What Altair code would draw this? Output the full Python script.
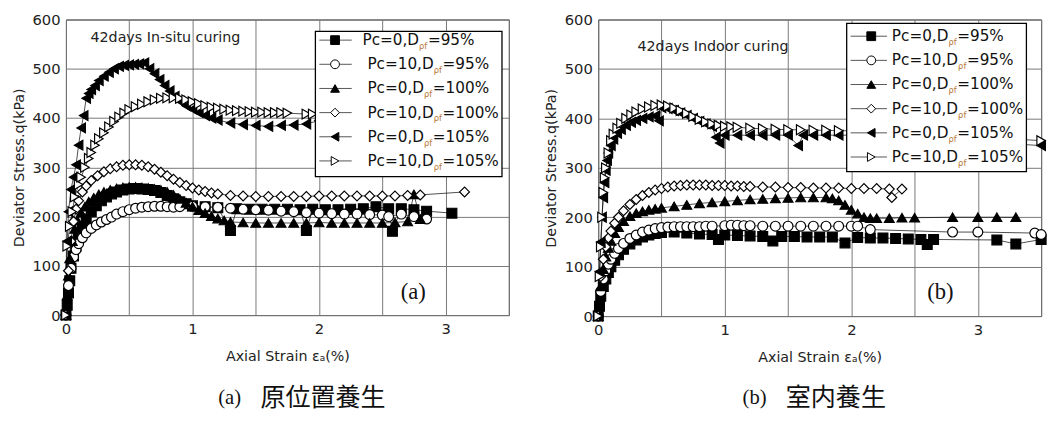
import altair as alt
import pandas as pd

# ---------------- data: panel (a) 42 days in-situ curing ----------------
A1_X = [0.0, 0.01, 0.02, 0.03, 0.04, 0.06, 0.08, 0.1, 0.13, 0.16, 0.2, 0.24, 0.28, 0.32, 0.36, 0.4, 0.45, 0.5, 0.55, 0.6, 0.65, 0.7, 0.75, 0.8, 0.85, 0.9, 0.95, 1.0, 1.1, 1.2, 1.3, 1.35, 1.45, 1.55, 1.65, 1.75, 1.85, 1.9, 1.95, 2.05, 2.15, 2.25, 2.35, 2.45, 2.55, 2.58, 2.65, 2.75, 2.85, 3.05]
A1_Y = [0, 20, 45, 70, 95, 120, 140, 158, 178, 195, 210, 222, 232, 240, 246, 250, 254, 256, 257, 256, 255, 253, 249, 243, 236, 230, 226, 222, 220, 218, 172, 216, 215, 215, 215, 215, 214, 172, 215, 214, 214, 215, 216, 220, 216, 170, 216, 214, 211, 207]

A2_X = [0.0, 0.02, 0.04, 0.06, 0.08, 0.1, 0.13, 0.16, 0.2, 0.24, 0.28, 0.32, 0.36, 0.4, 0.45, 0.5, 0.55, 0.6, 0.65, 0.7, 0.75, 0.8, 0.85, 0.9, 1.0, 1.1, 1.2, 1.3, 1.4, 1.5, 1.6, 1.7, 1.8, 1.9, 2.0, 2.1, 2.2, 2.3, 2.4, 2.5, 2.55, 2.65, 2.75, 2.85]
A2_Y = [0, 60, 95, 118, 133, 145, 157, 167, 176, 183, 189, 194, 199, 205, 210, 214, 217, 219, 220, 221, 221, 220, 219, 220, 221, 220, 219, 217, 215, 214, 213, 211, 210, 208, 207, 206, 205, 205, 204, 203, 200, 205, 200, 195]

A3_X = [0.0, 0.01, 0.02, 0.03, 0.05, 0.07, 0.09, 0.12, 0.15, 0.18, 0.22, 0.26, 0.3, 0.35, 0.4, 0.45, 0.5, 0.55, 0.6, 0.65, 0.7, 0.75, 0.8, 0.85, 0.9, 0.95, 1.0, 1.05, 1.1, 1.15, 1.2, 1.25, 1.3, 1.4, 1.5, 1.6, 1.7, 1.8, 1.9, 2.0, 2.1, 2.2, 2.3, 2.4, 2.5, 2.6, 2.7, 2.75, 2.8]
A3_Y = [0, 40, 80, 115, 150, 175, 192, 208, 220, 230, 238, 245, 250, 254, 257, 259, 260, 260, 259, 258, 256, 254, 250, 244, 236, 228, 220, 213, 207, 201, 196, 192, 189, 188, 187, 187, 187, 187, 187, 188, 187, 187, 187, 187, 187, 188, 190, 245, 195]

A4_X = [0.0, 0.02, 0.04, 0.06, 0.08, 0.1, 0.13, 0.16, 0.2, 0.25, 0.3, 0.35, 0.4, 0.45, 0.5, 0.55, 0.6, 0.65, 0.7, 0.75, 0.8, 0.85, 0.9, 0.95, 1.0, 1.05, 1.1, 1.15, 1.2, 1.3, 1.4, 1.5, 1.6, 1.7, 1.8, 1.9, 2.0, 2.1, 2.2, 2.3, 2.4, 2.5, 2.6, 2.7, 2.8, 3.15]
A4_Y = [0, 90, 150, 190, 215, 232, 250, 262, 273, 283, 291, 297, 301, 304, 305, 305, 304, 301, 296, 290, 283, 276, 269, 263, 258, 254, 251, 248, 246, 243, 242, 241, 241, 241, 241, 241, 242, 242, 242, 242, 242, 242, 242, 243, 244, 250]

A5_X = [0.0, 0.01, 0.02, 0.04, 0.06, 0.08, 0.1, 0.12, 0.14, 0.16, 0.18, 0.2, 0.23, 0.26, 0.3, 0.34, 0.38, 0.42, 0.46, 0.5, 0.54, 0.58, 0.62, 0.66, 0.7, 0.74, 0.78, 0.82, 0.86, 0.9, 0.95, 1.0, 1.05, 1.1, 1.15, 1.2, 1.3, 1.4, 1.5, 1.6, 1.7, 1.8, 1.9, 2.0]
A5_Y = [0, 150, 210, 255, 280, 305, 345, 380, 405, 440, 450, 458, 466, 476, 485, 493, 500, 505, 507, 508, 509, 510, 512, 500, 490, 478, 466, 455, 444, 434, 425, 418, 411, 405, 400, 396, 390, 387, 385, 383, 385, 386, 388, 395]

A6_X = [0.0, 0.01, 0.03, 0.05, 0.07, 0.1, 0.12, 0.15, 0.18, 0.2, 0.23, 0.26, 0.3, 0.34, 0.38, 0.42, 0.46, 0.5, 0.55, 0.6, 0.65, 0.7, 0.75, 0.8, 0.85, 0.9, 0.95, 1.0, 1.05, 1.1, 1.15, 1.2, 1.25, 1.3, 1.35, 1.4, 1.45, 1.5, 1.55, 1.6, 1.65, 1.7, 1.75, 1.9, 1.95]
A6_Y = [0, 140, 180, 210, 240, 265, 280, 300, 318, 330, 345, 358, 370, 382, 393, 402, 410, 417, 423, 428, 433, 437, 440, 441, 441, 440, 437, 433, 429, 425, 422, 420, 418, 416, 415, 414, 413, 412, 412, 411, 411, 411, 410, 408, 408]

# ---------------- data: panel (b) 42 days indoor curing ----------------
B1_X = [0.0, 0.01, 0.02, 0.04, 0.06, 0.08, 0.1, 0.13, 0.16, 0.2, 0.25, 0.3, 0.35, 0.4, 0.45, 0.5, 0.6, 0.7, 0.8, 0.9, 0.95, 1.0, 1.1, 1.2, 1.3, 1.38, 1.45, 1.55, 1.65, 1.75, 1.85, 1.95, 2.05, 2.15, 2.25, 2.35, 2.45, 2.55, 2.6, 2.65, 3.15, 3.3, 3.5]
B1_Y = [0, 20, 40, 60, 75, 88, 100, 113, 124, 135, 146, 154, 160, 164, 167, 169, 170, 168, 166, 165, 155, 164, 163, 162, 161, 152, 161, 161, 160, 160, 160, 148, 159, 158, 158, 157, 156, 155, 145, 155, 154, 146, 155]

B2_X = [0.0, 0.02, 0.04, 0.06, 0.08, 0.1, 0.13, 0.16, 0.2, 0.25, 0.3, 0.35, 0.4, 0.45, 0.5, 0.55, 0.6, 0.65, 0.7, 0.75, 0.8, 0.85, 0.9, 1.0, 1.05, 1.1, 1.15, 1.2, 1.3, 1.4, 1.5, 1.6, 1.7, 1.8, 1.9, 2.0, 2.05, 2.15, 2.8, 3.0, 3.45, 3.5]
B2_Y = [0, 50, 75, 92, 105, 115, 127, 137, 147, 157, 164, 170, 174, 177, 179, 180, 181, 181, 181, 181, 181, 182, 182, 183, 184, 184, 183, 183, 182, 182, 182, 182, 182, 182, 182, 182, 182, 175, 170, 170, 168, 165]

B3_X = [0.0, 0.02, 0.04, 0.06, 0.08, 0.1, 0.13, 0.16, 0.2, 0.25, 0.3, 0.35, 0.4, 0.45, 0.5, 0.6, 0.7, 0.8, 0.9, 1.0, 1.1, 1.2, 1.3, 1.4, 1.5, 1.6, 1.7, 1.8, 1.85, 1.9, 1.95, 2.0, 2.05, 2.1, 2.15, 2.2, 2.3, 2.4, 2.5, 2.8, 3.0, 3.15, 3.3]
B3_Y = [0, 60, 95, 120, 138, 152, 168, 180, 192, 202, 208, 212, 215, 217, 219, 222, 225, 228, 230, 232, 234, 236, 237, 238, 239, 240, 240, 240, 238, 234, 225, 215, 207, 200, 198, 198, 198, 199, 199, 200, 200, 200, 200]

B4_X = [0.0, 0.02, 0.04, 0.06, 0.08, 0.1, 0.13, 0.16, 0.2, 0.25, 0.3, 0.35, 0.4, 0.45, 0.5, 0.55, 0.6, 0.65, 0.7, 0.75, 0.8, 0.85, 0.9, 0.95, 1.0, 1.05, 1.1, 1.15, 1.2, 1.3, 1.4, 1.5, 1.6, 1.7, 1.8, 1.9, 2.0, 2.1, 2.2, 2.3, 2.32, 2.4]
B4_Y = [0, 80, 115, 140, 158, 172, 188, 200, 213, 226, 236, 244, 250, 255, 258, 261, 263, 264, 265, 265, 265, 265, 264, 264, 264, 263, 263, 262, 262, 261, 261, 260, 260, 259, 259, 259, 258, 258, 258, 257, 240, 257]

B5_X = [0.0, 0.01, 0.02, 0.03, 0.04, 0.05, 0.06, 0.07, 0.08, 0.1, 0.12, 0.15, 0.18, 0.22, 0.26, 0.3, 0.35, 0.4, 0.45, 0.48, 0.5, 0.55, 0.6, 0.65, 0.7, 0.75, 0.8, 0.85, 0.9, 0.93, 0.96, 1.0, 1.1, 1.2, 1.3, 1.4, 1.5, 1.58, 1.62, 1.7, 1.8, 1.9, 2.0, 2.1, 3.5]
B5_Y = [0, 90, 150, 200, 240, 270, 295, 315, 330, 345, 358, 370, 378, 386, 392, 396, 400, 403, 405, 395, 422, 420, 416, 411, 406, 400, 394, 389, 384, 362, 350, 366, 366, 366, 366, 366, 366, 345, 366, 366, 366, 366, 366, 366, 345]

B6_X = [0.0, 0.01, 0.02, 0.03, 0.04, 0.05, 0.06, 0.08, 0.1, 0.12, 0.15, 0.18, 0.22, 0.26, 0.3, 0.35, 0.4, 0.45, 0.5, 0.55, 0.6, 0.65, 0.7, 0.75, 0.8, 0.85, 0.9, 0.95, 1.0, 1.05, 1.1, 1.2, 1.3, 1.4, 1.5, 1.6, 1.7, 1.8, 1.9, 2.0, 2.1, 3.5]
B6_Y = [0, 80, 140, 200, 250, 280, 300, 330, 355, 368, 380, 390, 400, 407, 413, 419, 423, 426, 427, 425, 421, 416, 410, 404, 398, 393, 389, 386, 384, 383, 382, 380, 379, 378, 377, 377, 376, 376, 375, 375, 375, 355]

SERIES_KEYS = ["s1", "s2", "s3", "s4", "s5", "s6"]
LEGEND_PREFIX = ["Pc=0,D", "Pc=10,D", "Pc=0,D", "Pc=10,D", "Pc=0,D", "Pc=10,D"]
LEGEND_SUB = "ρf"
LEGEND_SUFFIX = ["=95%", "=95%", "=100%", "=100%", "=105%", "=105%"]
SHAPES = ["square", "circle", "triangle-up", "diamond", "triangle-left", "triangle-right"]
FILLS = ["black", "white", "black", "white", "black", "white"]

X_TITLE = "Axial Strain εₐ(%)"
Y_TITLE = "Deviator Stress.q(kPa)"

# DejaVu Sans advance widths (em) for legend layout
W = {"P": 0.603, "c": 0.550, "=": 0.838, "0": 0.636, "1": 0.636, "5": 0.636,
     "9": 0.636, ",": 0.318, "D": 0.770, "%": 0.950}


def text_w(s, size):
    return sum(W.get(ch, 0.6) for ch in s) * size


def build_df(xs_list, ys_list):
    rows = []
    for key, xs, ys in zip(SERIES_KEYS, xs_list, ys_list):
        for i, (xv, yv) in enumerate(zip(xs, ys)):
            rows.append({"series": key, "i": i, "x": xv, "y": yv})
    return pd.DataFrame(rows)


ONE = pd.DataFrame({"k": [0]})


def panel(df, width, height, note, note_xy, tag, tag_xy, cap_tag, cap_text, cap_xy, leg):
    xs = alt.X("x:Q", scale=alt.Scale(domain=[0, 3.5], nice=False, zero=False),
               axis=alt.Axis(values=[0, 0.5, 1, 1.5, 2, 2.5, 3, 3.5],
                             labelExpr="datum.value % 1 === 0 ? format(datum.value, 'd') : ''",
                             title=X_TITLE, labelFlush=False, labelOverlap=False,
                             labelPadding=7, titlePadding=13))
    ys = alt.Y("y:Q", scale=alt.Scale(domain=[0, 600], nice=False),
               axis=alt.Axis(values=list(range(0, 601, 50)),
                             labelExpr="datum.value % 100 === 0 ? format(datum.value, 'd') : ''",
                             title=Y_TITLE, labelOverlap=False, labelPadding=6, titlePadding=6))
    base = alt.Chart(df)
    line = base.mark_line(color="black", strokeWidth=0.7).encode(
        x=xs, y=ys, detail="series:N", order="i:Q")
    pts = base.mark_point(stroke="black", strokeWidth=1.2, size=100, opacity=1, fillOpacity=1).encode(
        x="x:Q", y="y:Q",
        shape=alt.Shape("series:N", scale=alt.Scale(domain=SERIES_KEYS, range=SHAPES), legend=None),
        fill=alt.Fill("series:N", scale=alt.Scale(domain=SERIES_KEYS, range=FILLS), legend=None),
    )
    layers = [line, pts]
    one = alt.Chart(ONE)
    layers.append(one.mark_text(text=note, font="DejaVu Sans", fontSize=14.5, align="left",
                                baseline="middle", color="#222").encode(
        x=alt.value(note_xy[0]), y=alt.value(note_xy[1])))
    layers.append(one.mark_text(text=tag, font="Liberation Serif", fontSize=23, align="left",
                                baseline="middle", color="#111").encode(
        x=alt.value(tag_xy[0]), y=alt.value(tag_xy[1])))
    # legend box
    lx0, ly0, lx1, ly1, row0, dy, sym0, sym1, mk, tx = leg
    layers.append(one.mark_rect(fill="white", stroke="black", strokeWidth=1.3).encode(
        x=alt.value(lx0), x2=alt.value(lx1), y=alt.value(ly0), y2=alt.value(ly1)))
    fs = 15.5
    for r in range(6):
        yy = row0 + r * dy
        layers.append(one.mark_rule(color="#555", strokeWidth=1).encode(
            x=alt.value(sym0), x2=alt.value(sym1), y=alt.value(yy)))
        layers.append(one.mark_point(shape=SHAPES[r], fill=FILLS[r], stroke="black", strokeWidth=1,
                                     size=80, opacity=1, fillOpacity=1).encode(
            x=alt.value(mk), y=alt.value(yy)))
        t0 = tx[r]
        pre = LEGEND_PREFIX[r]
        wpre = text_w(pre, fs)
        layers.append(one.mark_text(text=pre, font="DejaVu Sans", fontSize=fs, align="left",
                                    baseline="middle", color="#111").encode(
            x=alt.value(t0), y=alt.value(yy)))
        layers.append(one.mark_text(text=LEGEND_SUB, font="DejaVu Sans", fontSize=8.5, align="left",
                                    baseline="middle", color="#b87a3a").encode(
            x=alt.value(t0 + wpre), y=alt.value(yy + 6)))
        layers.append(one.mark_text(text=LEGEND_SUFFIX[r], font="DejaVu Sans", fontSize=fs, align="left",
                                    baseline="middle", color="#111").encode(
            x=alt.value(t0 + wpre + 9), y=alt.value(yy)))
    # caption
    layers.append(one.mark_text(text=cap_tag, font="Liberation Serif", fontSize=21, align="left",
                                baseline="middle", color="#111").encode(
        x=alt.value(cap_xy[0]), y=alt.value(cap_xy[2])))
    layers.append(one.mark_text(text=cap_text, font="Noto Sans CJK JP", fontSize=25.5, align="left",
                                baseline="middle", color="#111").encode(
        x=alt.value(cap_xy[1]), y=alt.value(cap_xy[2])))
    return alt.layer(*layers).properties(width=width, height=height)


df_a = build_df([A1_X, A2_X, A3_X, A4_X, A5_X, A6_X], [A1_Y, A2_Y, A3_Y, A4_Y, A5_Y, A6_Y])
df_b = build_df([B1_X, B2_X, B3_X, B4_X, B5_X, B6_X], [B1_Y, B2_Y, B3_Y, B4_Y, B5_Y, B6_Y])

left = panel(df_a, 451, 301, "42days In-situ curing", (25, 19), "(a)", (341, 278),
             "(a)", "原位置養生", (155, 198, 386),
             (254, 12, 444, 160, 21, 24.6, 258, 291, 274, [302, 307, 307, 307, 307, 307]))
right = panel(df_b, 451, 302, "42days Indoor curing", (40, 28), "(b)", (335, 278),
              "(b)", "室内養生", (147, 191, 386),
              (253, 4, 436, 155, 17, 24.6, 257, 294, 278, [299, 299, 299, 299, 299, 299]))

chart = alt.hconcat(left, right, spacing=33).properties(
    padding={"left": 2, "top": 0, "right": 0, "bottom": 0},
    background="white",
).configure_view(stroke="#333", strokeWidth=1).configure_axis(
    labelFont="DejaVu Sans", labelFontSize=15, labelColor="#222",
    titleFont="DejaVu Sans", titleFontSize=14.5, titleFontWeight="normal", titleColor="#222",
    gridColor="#777", gridWidth=1, gridOpacity=1, ticks=False, domain=False,
)

chart.save("out.html", embed_options={"renderer": "svg", "actions": False})
